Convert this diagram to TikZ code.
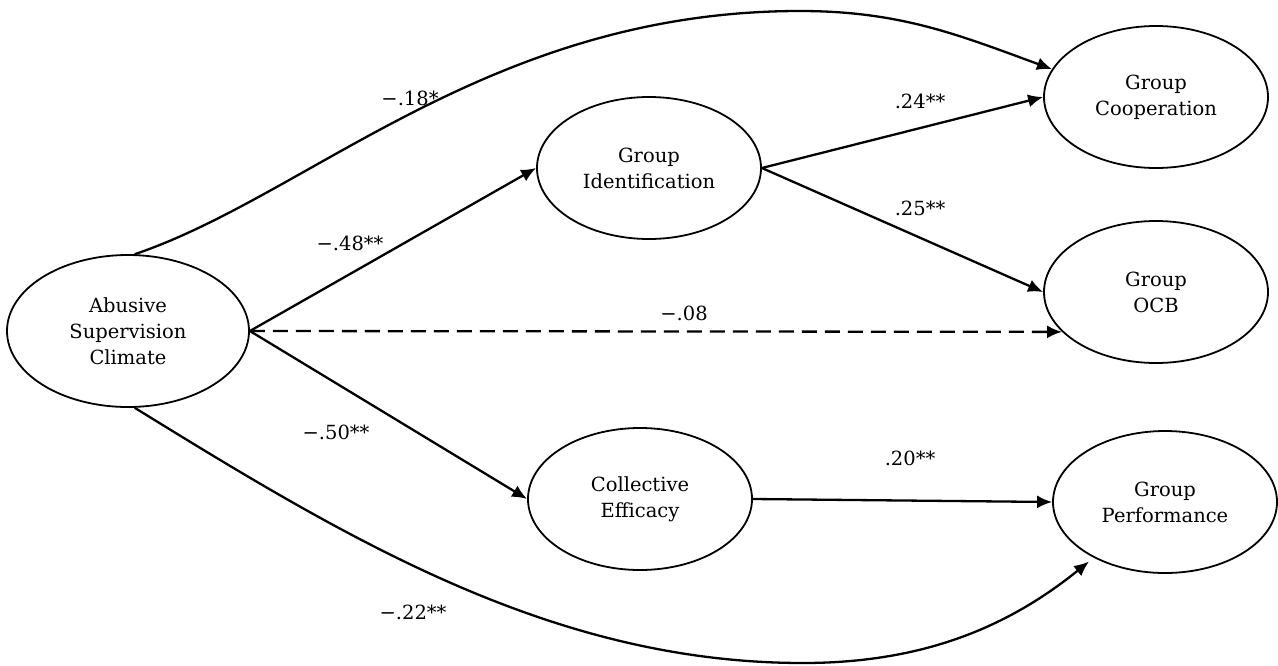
\documentclass[tikz,border=0pt]{standalone}
\usepackage{fontspec}
\setmainfont{DejaVu Serif}
\usetikzlibrary{shapes.geometric,arrows.meta}
\begin{document}
\begin{tikzpicture}[x=1pt,y=-1pt,
  var/.style={draw,ellipse,line width=1.8pt,inner sep=0pt,minimum width=224pt,minimum height=142pt,align=center,font=\fontsize{19.5}{26}\selectfont},
  conn/.style={line width=2.3pt,-{Latex[length=15pt,width=13pt]}},
  coef/.style={font=\fontsize{19.5}{22}\selectfont,inner sep=1pt}]
\useasboundingbox (0,0) rectangle (1278,665);
\node[var,minimum width=242pt,minimum height=152pt] (abs) at (128,331) {Abusive\\Supervision\\Climate};
\node[var] (ident) at (649,168) {Group\\Identification};
\node[var] (coll) at (640,499) {Collective\\Efficacy};
\node[var] (coop) at (1156,97) {Group\\Cooperation};
\node[var] (ocb) at (1156,292) {Group\\OCB};
\node[var] (perf) at (1165,502) {Group\\Performance};
% connectors
\draw[conn] (abs.85) .. controls (310,195) and (490,11) .. (800,11) .. controls (900,11) and (959,35) .. (coop.165);
\draw[conn] (abs.east) -- (ident.west);
\draw[conn,dash pattern=on 15pt off 8pt] (abs.east) -- (ocb.203);
\draw[conn] (abs.east) -- (coll.west);
\draw[conn,shorten >=6pt] (abs.275) .. controls (349,540) and (553,663) .. (803,663) .. controls (923,663) and (1008,627) .. (perf.218);
\draw[conn] (ident.east) -- (coop.west);
\draw[conn] (ident.east) -- (ocb.west);
\draw[conn] (coll.east) -- (perf.west);
% coefficients
\node[coef] (l18) at (410,98) {−.18*};
\node[coef] (l48) at (350,243) {−.48**};
\node[coef] (l08) at (684,313) {−.08};
\node[coef] (l50) at (336,432) {−.50**};
\node[coef] (l22) at (413,612) {−.22**};
\node[coef] (l24) at (920,101) {.24**};
\node[coef] (l25) at (920,208) {.25**};
\node[coef] (l20) at (910,458) {.20**};
\end{tikzpicture}
\end{document}
